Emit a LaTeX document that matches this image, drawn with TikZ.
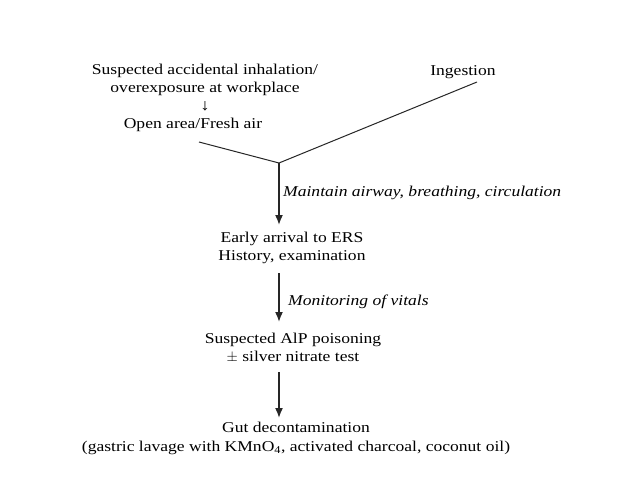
\documentclass[tikz,border=0pt]{standalone}
\usepackage{fontspec}
\setmainfont[FakeStretch=1.17]{Liberation Serif}
\usetikzlibrary{arrows.meta}
\begin{document}
\begin{tikzpicture}[x=1pt,y=-1pt,
  txt/.style={inner sep=0pt, align=center, font=\fontsize{15}{18.5}\selectfont},
  lbl/.style={inner sep=0pt, anchor=west, font=\fontsize{15}{18.5}\selectfont\itshape},
  ln/.style={line width=1pt, black!85},
  arr/.style={line width=1.6pt, black!85, -{Latex[length=10pt,width=8pt]}}]
\useasboundingbox (0,0) rectangle (638,479);
\fill[white] (0,0) rectangle (638,479);
\node[txt] (inh) at (205,80) {Suspected accidental inhalation/\\overexposure at workplace};
\node[inner sep=0pt, font=\fontsize{16}{16}\selectfont] (darr) at (205,106) {↓};
\node[txt] (open) at (193,125) {Open area/Fresh air};
\node[txt] (ing) at (463,72) {Ingestion};
\coordinate (l0) at (199,142);
\coordinate (r0) at (477,82);
\coordinate (j) at (279,163);
\node[txt] (ers) at (292,248) {Early arrival to ERS\\History, examination};
\node[txt] (alp) at (293,348) {Suspected AlP poisoning\\$\pm$ silver nitrate test};
\node[txt] (gut) at (296,438.5) {Gut decontamination\\(gastric lavage with KMnO\textsubscript{4}, activated charcoal, coconut oil)};
\node[lbl] (m1) at (283,193) {Maintain airway, breathing, circulation};
\node[lbl] (m2) at (288,302) {Monitoring of vitals};
\draw[ln] (l0) -- (j) -- (r0);
\draw[arr] (j) -- (279,225);
\draw[arr] (279,273) -- (279,322);
\draw[arr] (279,372) -- (279,418);
\end{tikzpicture}
\end{document}
